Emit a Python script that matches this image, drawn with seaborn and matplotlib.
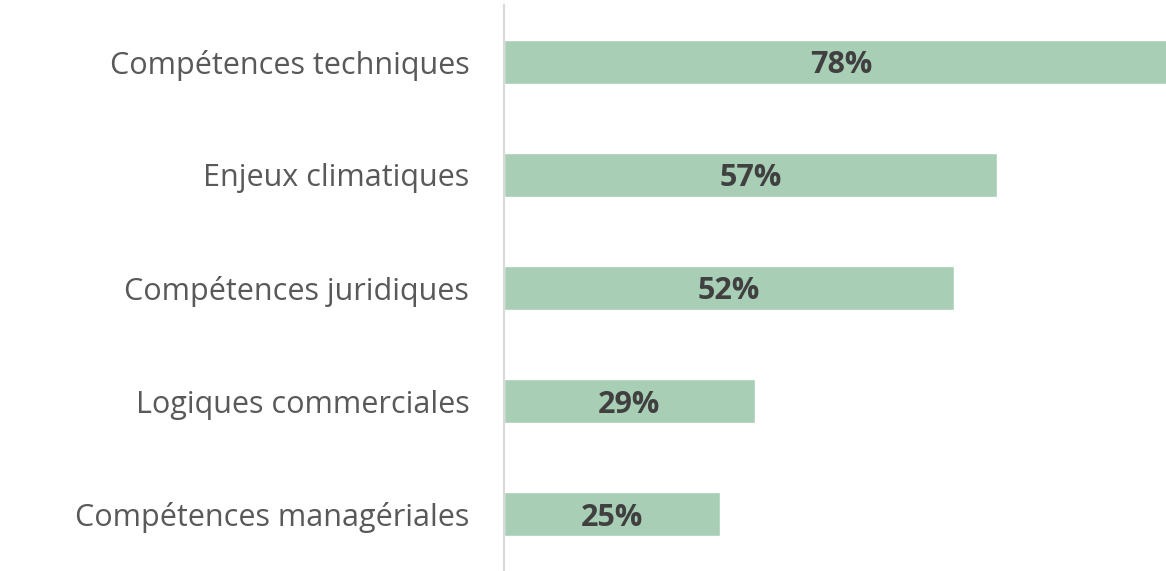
import matplotlib
matplotlib.use("Agg")
import matplotlib.pyplot as plt
import seaborn as sns
import pandas as pd

categories = ["Compétences techniques", "Enjeux climatiques", "Compétences juridiques",
              "Logiques commerciales", "Compétences managériales"]
values = [78, 57, 52, 29, 25]
value_labels = ["78%", "57%", "52%", "29%", "25%"]

sns.set_theme(style="white")
plt.rcParams['font.family'] = ['Open Sans', 'DejaVu Sans']

df = pd.DataFrame({"cat": categories, "val": values})

fig = plt.figure(figsize=(11.66, 5.71), dpi=100)
ax = fig.add_axes([504/1166, 0.0, 1 - 504/1166, 1 - 5/571])
sns.barplot(data=df, x="val", y="cat", orient="h", color="#A8CFB6", saturation=1,
            width=0.39, ax=ax)

ax.set_xlim(0, 76.5)
ax.set_ylim(4.5, -0.5)
ax.set_xlabel("")
ax.set_ylabel("")
ax.set_xticks([])
for s in ["top", "right", "bottom"]:
    ax.spines[s].set_visible(False)
ax.spines["left"].set_color("#D9D9D9")
ax.spines["left"].set_linewidth(1.5)
ax.tick_params(axis="y", length=0, pad=25, labelsize=22, labelcolor="#595959")

for i, (v, lab) in enumerate(zip(values, value_labels)):
    ax.text(v / 2, i + 0.03, lab, ha="center", va="center", fontsize=22, fontweight="bold",
            color="#404040", clip_on=False)

fig.savefig("out.png", dpi=100)
